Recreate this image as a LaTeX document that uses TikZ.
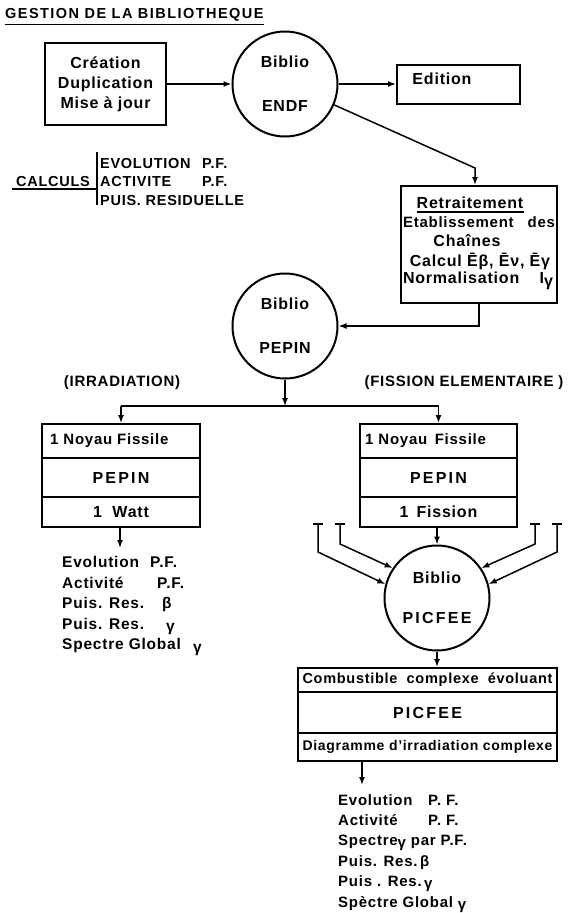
\documentclass[tikz,border=0pt]{standalone}
\usepackage{fontspec}
\setmainfont[LetterSpace=5]{Liberation Sans}
\usetikzlibrary{arrows.meta}
\begin{document}
\begin{tikzpicture}[x=1pt,y=-1pt,
  txt/.style={inner sep=0pt, font=\bfseries\fontsize{16}{20}\selectfont},
  frame/.style={draw, line width=2pt, inner sep=0pt, font=\bfseries\fontsize{16}{20}\selectfont},
  lib/.style={circle, draw, line width=2pt, minimum size=105pt, inner sep=0pt,
    align=center, font=\bfseries\fontsize{16}{16}\selectfont},
  conn/.style={line width=1.5pt},
  arr/.style={conn, -{Latex[length=8pt,width=6pt]}},
  uline/.style={line width=1.3pt},
  wide/.style={font=\bfseries\fontsize{16}{16}\selectfont\addfontfeature{LetterSpace=14}},
  listtxt/.style={txt, anchor=north west, align=left, font=\bfseries\fontsize{15.5}{20.6}\selectfont},
]
\useasboundingbox (0,0) rectangle (570,913);

% --- title ---
\node[txt, anchor=west, font=\bfseries\fontsize{14.5}{14.5}\selectfont\addfontfeature{LetterSpace=10}] (title) at (5,15) {GESTION DE LA BIBLIOTHEQUE};
\draw[uline] ([yshift=-3pt]title.south west) -- ([yshift=-3pt]title.south east);

% --- ENDF library and its neighbours ---
\node[frame, minimum width=121pt, minimum height=82pt, align=center] (creat) at (105.5,84) {Création\\Duplication\\Mise à jour};
\node[lib] (endf) at (285,84) {Biblio\\[28pt]ENDF};
\node[frame, minimum width=123pt, minimum height=39pt] (edit) at (458.5,84.5) {};
\node[txt] (edittxt) at (442,79) {Edition};

\draw[arr] (creat.east) -- (endf.west);
\draw[arr] (endf.east) -- (endf.east -| edit.west);

% --- calculations ---
\node[txt, anchor=east, font=\bfseries\fontsize{14.5}{14.5}\selectfont] (calc) at (90,182) {CALCULS};
\coordinate (barTop) at (97,152);
\coordinate (barBot) at (97,205);
\coordinate (calcUl) at (12,189);
\draw[conn] (barTop) -- (barBot);
\draw[uline] (calcUl) -- (calcUl -| barTop);
\node[txt, anchor=west, align=left, font=\bfseries\fontsize{14.5}{18.5}\selectfont] (calclist) at (100,182)
  {\makebox[102pt][l]{EVOLUTION}P.F.\\\makebox[102pt][l]{ACTIVITE}P.F.\\PUIS. RESIDUELLE};

% --- reprocessing ---
\node[frame, minimum width=156pt, minimum height=117pt] (retr) at (479,244.5) {};
\coordinate (bend) at (475,168);
\draw[arr] (endf.-23.6) -- (bend) -- (bend |- retr.north);
\node[txt] (rt1) at (470,203) {Retraitement};
\draw[uline] ([yshift=-3pt]rt1.south west) -- ([yshift=-3pt]rt1.south east);
\node[txt, font=\bfseries\fontsize{15}{15}\selectfont] (rt2) at (479,222) {\makebox[152pt][s]{Etablissement des}};
\node[txt] (rt3) at (467,241) {Chaînes};
\node[txt] (rt4) at (480,261) {Calcul Ēβ, Ēν, Ēγ};
\node[txt] (rt5) at (478,281) {\makebox[150pt][s]{Normalisation I\raisebox{-3pt}{γ}}};

% --- PEPIN library ---
\node[lib] (pepin) at (285,326) {Biblio\\[28pt]PEPIN};
\draw[arr] (retr.south) |- (pepin.east);

\node[txt, font=\bfseries\fontsize{15}{15}\selectfont] (irr) at (122,383) {(IRRADIATION)};
\node[txt, font=\bfseries\fontsize{15}{15}\selectfont] (fis) at (464,383) {(FISSION ELEMENTAIRE )};

% --- PEPIN runs ---
\node[frame, minimum width=158pt, minimum height=34pt] (lrow1) at (121,441) {};
\node[frame, minimum width=158pt, minimum height=39pt, wide] (lrow2) at (121,477.5) {PEPIN};
\node[frame, minimum width=158pt, minimum height=30pt] (lrow3) at (121,512) {1~~Watt};
\node[txt, anchor=west, font=\bfseries\fontsize{15}{15}\selectfont] (lnoy) at (50,441) {1 Noyau Fissile};

\node[frame, minimum width=157pt, minimum height=34pt] (rrow1) at (438.5,441) {};
\node[frame, minimum width=157pt, minimum height=39pt, wide] (rrow2) at (438.5,477.5) {PEPIN};
\node[frame, minimum width=157pt, minimum height=30pt] (rrow3) at (438.5,512) {1\enspace Fission};
\node[txt, anchor=west, font=\bfseries\fontsize{15}{15}\selectfont] (rnoy) at (365,441) {1 Noyau\enspace Fissile};

\coordinate (br) at (0,406);
\draw[arr] (pepin.south) -- (pepin.south |- br);
\draw[conn] (lrow1.north |- br) -- (rrow1.north |- br);
\draw[arr] (lrow1.north |- br) -- (lrow1.north);
\draw[arr] (rrow1.north |- br) -- (rrow1.north);

% --- irradiation results ---
\coordinate (out1) at (120,548);
\draw[arr] (out1 |- lrow3.south) -- (out1);
\node[listtxt] (llist) at (62,556)
  {\makebox[88pt][l]{Evolution}P.F.\\
   \makebox[95pt][l]{Activité}P.F.\\
   \makebox[100pt][l]{Puis. Res.}β\\
   \makebox[104pt][l]{Puis. Res.}\raisebox{-2pt}{γ}\\
   \makebox[131pt][l]{Spectre Global}\raisebox{-3pt}{γ}};

% --- PICFEE library ---
\node[lib] (pf) at (437,598) {Biblio\\[24pt]{\addfontfeature{LetterSpace=14}PICFEE}};
\draw[arr] (pf.north |- rrow3.south) -- (pf.north);

\coordinate (t1) at (318,524);
\coordinate (t2) at (340,524);
\coordinate (t3) at (535,524);
\coordinate (t4) at (557,524);
\foreach \t in {t1,t2,t3,t4} {\draw[conn] (\t) ++(-5,0) -- ++(10,0);}
\draw[arr] (t1) -- ++(0,28) -- (pf.165);
\draw[arr] (t2) -- ++(0,20) -- (pf.146);
\draw[arr] (t3) -- ++(0,20) -- (pf.34);
\draw[arr] (t4) -- ++(0,28) -- (pf.15);

% --- PICFEE run ---
\node[frame, minimum width=259pt, minimum height=24pt, font=\bfseries\fontsize{14.5}{14.5}\selectfont] (brow1) at (427.5,680)
  {\makebox[250pt][s]{Combustible complexe évoluant}};
\node[frame, minimum width=259pt, minimum height=41pt, wide] (brow2) at (427.5,712.5) {PICFEE};
\node[frame, minimum width=259pt, minimum height=28pt, font=\bfseries\fontsize{14}{14}\selectfont] (brow3) at (427.5,747)
  {Diagramme d’irradiation complexe};
\draw[arr] (pf.south) -- (pf.south |- brow1.north);

% --- complex irradiation results ---
\coordinate (out2) at (362,785);
\draw[arr] (out2 |- brow3.south) -- (out2);
\node[listtxt, font=\bfseries\fontsize{15}{20.4}\selectfont] (rlist) at (338,794)
  {\makebox[90pt][l]{Evolution}P. F.\\
   \makebox[90pt][l]{Activité}P. F.\\
   Spectre\raisebox{-2pt}{γ} par P.F.\\
   Puis. Res.\,β\\
   Puis . Res.\,\raisebox{-2pt}{γ}\\
   Spèctre Global \raisebox{-2pt}{γ}};
\end{tikzpicture}
\end{document}
